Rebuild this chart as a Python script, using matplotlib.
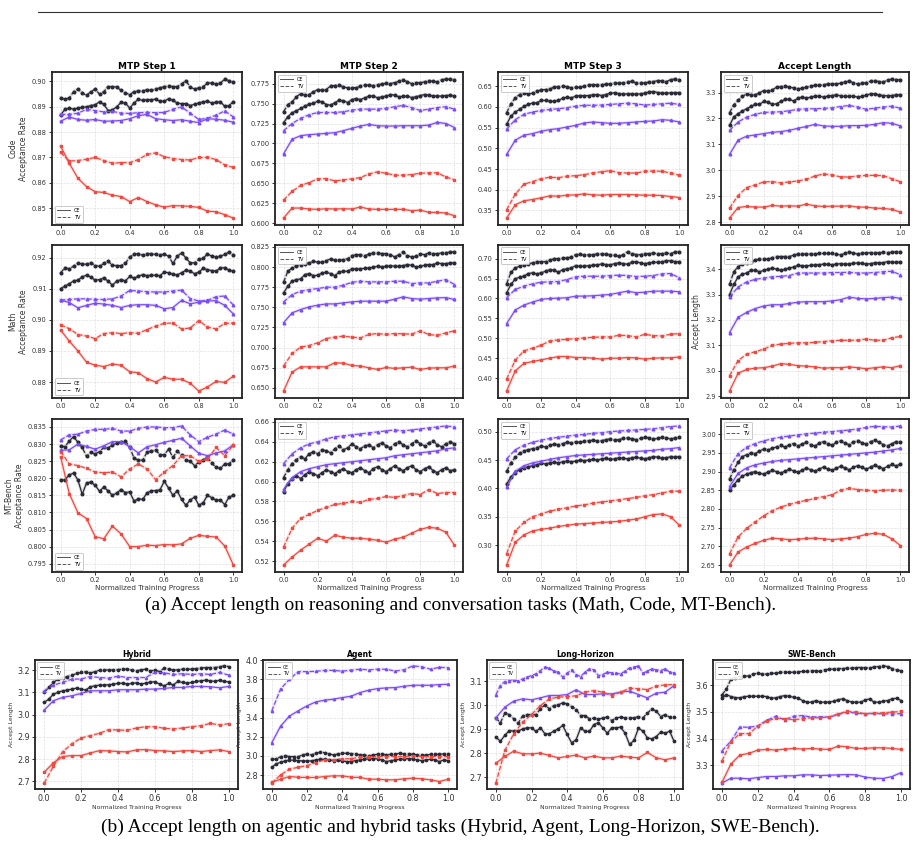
import numpy as np
import matplotlib.pyplot as plt
from matplotlib.lines import Line2D
from matplotlib.ticker import MultipleLocator

# ---------------- data: (a) Code ----------------
CODE1_BK_TV = [0.8935, 0.8930, 0.8935, 0.8960, 0.8970, 0.8955, 0.8945, 0.8960, 0.8970, 0.8950,
               0.8960, 0.8980, 0.8980, 0.8978, 0.8965, 0.8955, 0.8948, 0.8960, 0.8963, 0.8962,
               0.8968, 0.8965, 0.8970, 0.8975, 0.8980, 0.8982, 0.8980, 0.8980, 0.8990, 0.9003,
               0.8978, 0.8970, 0.8975, 0.8980, 0.8993, 0.8995, 0.8990, 0.8993, 0.9010, 0.9003, 0.8997]
CODE1_BK_CE = [0.8868, 0.8890, 0.8895, 0.8890, 0.8895, 0.8898, 0.8900, 0.8905, 0.8908, 0.8920,
               0.8910, 0.8885, 0.8888, 0.8900, 0.8918, 0.8915, 0.8895, 0.8915, 0.8930, 0.8925,
               0.8928, 0.8928, 0.8930, 0.8922, 0.8922, 0.8932, 0.8925, 0.8915, 0.8912, 0.8913,
               0.8905, 0.8910, 0.8915, 0.8920, 0.8922, 0.8915, 0.8918, 0.8920, 0.8902, 0.8905, 0.8920]
CODE1_PU_TV = [0.8870, 0.8870, 0.8875, 0.8890, 0.8885, 0.8880, 0.8882, 0.8875, 0.8874, 0.8877, 0.8878,
               0.8877, 0.8878, 0.8890, 0.8900, 0.8875, 0.8850, 0.8855, 0.8867, 0.8884, 0.8860]
CODE1_PU_CE = [0.8843, 0.8860, 0.8850, 0.8847, 0.8850, 0.8843, 0.8844, 0.8846, 0.8853, 0.8865, 0.8870,
               0.8853, 0.8849, 0.8846, 0.8849, 0.8843, 0.8838, 0.8853, 0.8851, 0.8847, 0.8839]
CODE1_RD_TV = [0.8720, 0.8686, 0.8688, 0.8693, 0.8700, 0.8688, 0.8677, 0.8680, 0.8680, 0.8692, 0.8712,
               0.8718, 0.8703, 0.8696, 0.8692, 0.8690, 0.8700, 0.8700, 0.8692, 0.8670, 0.8661]
CODE1_RD_CE = [0.8745, 0.8677, 0.8618, 0.8585, 0.8565, 0.8562, 0.8551, 0.8546, 0.8526, 0.8542, 0.8526,
               0.8513, 0.8504, 0.8510, 0.8509, 0.8507, 0.8503, 0.8488, 0.8486, 0.8474, 0.8461]

CODE2_BK_TV = [0.7397, 0.7488, 0.7521, 0.7584, 0.7625, 0.7605, 0.7613, 0.7646, 0.7675, 0.7667,
               0.7675, 0.7721, 0.7725, 0.7733, 0.7708, 0.7696, 0.7696, 0.7700, 0.7717, 0.7733,
               0.7729, 0.7725, 0.7733, 0.7746, 0.7754, 0.7750, 0.7762, 0.7779, 0.7800, 0.7771,
               0.7750, 0.7762, 0.7762, 0.7771, 0.7787, 0.7779, 0.7771, 0.7796, 0.7808, 0.7804, 0.7800]
CODE2_BK_CE = [0.7260, 0.7334, 0.7384, 0.7409, 0.7438, 0.7467, 0.7492, 0.7501, 0.7530, 0.7521,
               0.7488, 0.7480, 0.7509, 0.7542, 0.7534, 0.7513, 0.7550, 0.7563, 0.7550, 0.7571,
               0.7592, 0.7596, 0.7571, 0.7584, 0.7592, 0.7613, 0.7605, 0.7584, 0.7592, 0.7592,
               0.7575, 0.7584, 0.7600, 0.7613, 0.7605, 0.7592, 0.7596, 0.7592, 0.7600, 0.7605, 0.7592]
CODE2_PU_TV = [0.7160, 0.7250, 0.7314, 0.7360, 0.7388, 0.7388, 0.7388, 0.7397, 0.7417, 0.7430, 0.7430,
               0.7430, 0.7440, 0.7460, 0.7476, 0.7450, 0.7413, 0.7430, 0.7450, 0.7460, 0.7430]
CODE2_PU_CE = [0.6869, 0.7052, 0.7098, 0.7110, 0.7118, 0.7127, 0.7135, 0.7160, 0.7190, 0.7218, 0.7239,
               0.7222, 0.7218, 0.7218, 0.7222, 0.7222, 0.7222, 0.7230, 0.7264, 0.7250, 0.7200]
CODE2_RD_TV = [0.6291, 0.6400, 0.6474, 0.6510, 0.6557, 0.6560, 0.6531, 0.6544, 0.6557, 0.6572, 0.6619,
               0.6644, 0.6627, 0.6602, 0.6602, 0.6611, 0.6627, 0.6632, 0.6632, 0.6580, 0.6545]
CODE2_RD_CE = [0.6066, 0.6191, 0.6191, 0.6179, 0.6175, 0.6183, 0.6179, 0.6183, 0.6179, 0.6204, 0.6179,
               0.6175, 0.6175, 0.6175, 0.6175, 0.6158, 0.6166, 0.6137, 0.6137, 0.6129, 0.6095]

CODE3_BK_TV = [0.586, 0.6076, 0.622, 0.630, 0.6332, 0.6316, 0.6332, 0.638, 0.6412, 0.642,
               0.6436, 0.6476, 0.6492, 0.650, 0.6492, 0.646, 0.6476, 0.6476, 0.650, 0.6532,
               0.654, 0.6532, 0.654, 0.6548, 0.6556, 0.658, 0.6572, 0.658, 0.6604, 0.662,
               0.658, 0.6588, 0.658, 0.6604, 0.6612, 0.6636, 0.6628, 0.6612, 0.666, 0.6676, 0.6652]
CODE3_BK_CE = [0.558, 0.578, 0.5876, 0.594, 0.6012, 0.606, 0.6092, 0.610, 0.6156, 0.6156,
               0.614, 0.6132, 0.6156, 0.6212, 0.6236, 0.622, 0.626, 0.6276, 0.6268, 0.6276,
               0.6292, 0.630, 0.6276, 0.630, 0.6332, 0.634, 0.6324, 0.6308, 0.6316, 0.6316,
               0.6308, 0.6316, 0.6332, 0.6364, 0.6372, 0.6348, 0.6332, 0.6332, 0.634, 0.6348, 0.634]
CODE3_PU_TV = [0.546, 0.5692, 0.582, 0.5876, 0.5916, 0.594, 0.5956, 0.598, 0.602, 0.604, 0.604,
               0.6044, 0.606, 0.6076, 0.609, 0.6076, 0.6044, 0.606, 0.6076, 0.609, 0.606]
CODE3_PU_CE = [0.4852, 0.5196, 0.5316, 0.5356, 0.5412, 0.5452, 0.5476, 0.5516, 0.5556, 0.5612, 0.5636,
               0.562, 0.5604, 0.5604, 0.562, 0.5636, 0.5652, 0.566, 0.5692, 0.5676, 0.5636]
CODE3_RD_TV = [0.3516, 0.3892, 0.4132, 0.4196, 0.4268, 0.430, 0.4292, 0.4324, 0.434, 0.4364, 0.4404,
               0.4436, 0.446, 0.4412, 0.4404, 0.4404, 0.4444, 0.4452, 0.4444, 0.4404, 0.4348]
CODE3_RD_CE = [0.3316, 0.3636, 0.3732, 0.3764, 0.3804, 0.3852, 0.3844, 0.3868, 0.3876, 0.390, 0.3876,
               0.3868, 0.3884, 0.3884, 0.3884, 0.3876, 0.3868, 0.3868, 0.386, 0.3836, 0.3812]

CODEL_BK_TV = [3.222, 3.2527, 3.2693, 3.2847, 3.2949, 3.2910, 3.2910, 3.2987, 3.3077, 3.3051,
               3.3102, 3.3205, 3.323, 3.3243, 3.3205, 3.3179, 3.3141, 3.3166, 3.3205, 3.3243,
               3.3281, 3.3281, 3.3294, 3.3332, 3.3332, 3.3332, 3.3358, 3.3409, 3.3448, 3.3371,
               3.3332, 3.3358, 3.3384, 3.3435, 3.346, 3.3422, 3.3409, 3.3473, 3.3524, 3.3499, 3.3486]
CODEL_BK_CE = [3.1734, 3.2054, 3.2182, 3.2284, 3.2373, 3.2463, 3.254, 3.254, 3.2655, 3.2629,
               3.254, 3.2565, 3.2655, 3.2731, 3.2744, 3.2668, 3.2783, 3.2821, 3.2783, 3.2821,
               3.2859, 3.2859, 3.2821, 3.2859, 3.2885, 3.2910, 3.2872, 3.2847, 3.2859, 3.2859,
               3.2821, 3.2847, 3.2898, 3.2949, 3.2949, 3.2898, 3.2885, 3.2872, 3.2885, 3.2910, 3.2910]
CODEL_PU_TV = [3.154, 3.186, 3.205, 3.2156, 3.2233, 3.2245, 3.2258, 3.2297, 3.2348, 3.2373, 3.2373,
               3.2386, 3.241, 3.246, 3.250, 3.2437, 3.2348, 3.240, 3.2437, 3.2475, 3.239]
CODEL_PU_CE = [3.061, 3.116, 3.1312, 3.136, 3.1414, 3.1465, 3.149, 3.154, 3.1618, 3.169, 3.177,
               3.171, 3.1695, 3.1695, 3.1721, 3.1721, 3.1734, 3.177, 3.1836, 3.181, 3.171]
CODEL_RD_TV = [2.8537, 2.9023, 2.933, 2.943, 2.9547, 2.956, 2.951, 2.9547, 2.9586, 2.965, 2.9777,
               2.9854, 2.9816, 2.974, 2.974, 2.9777, 2.980, 2.980, 2.979, 2.967, 2.955]
CODEL_RD_CE = [2.8153, 2.856, 2.860, 2.8575, 2.8575, 2.864, 2.8612, 2.8625, 2.8612, 2.869, 2.8625,
               2.860, 2.8612, 2.8612, 2.8625, 2.8575, 2.8575, 2.8537, 2.8524, 2.8486, 2.8384]

# ---------------- data: (a) Math ----------------
MATH1_BK_TV = [0.9152, 0.9168, 0.9165, 0.9173, 0.9182, 0.9181, 0.9179, 0.9184, 0.9175, 0.9173,
               0.9182, 0.9189, 0.9176, 0.9175, 0.9175, 0.9182, 0.9203, 0.9211, 0.9214, 0.9208,
               0.9214, 0.9213, 0.9211, 0.9209, 0.9212, 0.9205, 0.9182, 0.9205, 0.9216, 0.9200,
               0.9184, 0.9184, 0.9195, 0.9198, 0.9213, 0.9205, 0.9203, 0.9205, 0.9211, 0.9219, 0.9209]
MATH1_BK_CE = [0.9101, 0.9109, 0.9116, 0.9126, 0.9128, 0.9139, 0.9144, 0.9138, 0.9128, 0.9130,
               0.9135, 0.9125, 0.9112, 0.9125, 0.9130, 0.9126, 0.9140, 0.9134, 0.9141, 0.9146,
               0.9143, 0.9144, 0.9144, 0.9143, 0.9154, 0.9152, 0.9147, 0.9145, 0.9152, 0.9160,
               0.9157, 0.9149, 0.9154, 0.9166, 0.9162, 0.9159, 0.9157, 0.9168, 0.9168, 0.9160, 0.9157]
MATH1_PU_TV = [0.9064, 0.9066, 0.9068, 0.9068, 0.9066, 0.9066, 0.9068, 0.9077, 0.9095, 0.9093, 0.9091,
               0.9090, 0.9090, 0.9093, 0.9096, 0.9069, 0.9061, 0.9063, 0.9075, 0.9077, 0.9048]
MATH1_PU_CE = [0.9064, 0.9056, 0.9039, 0.9047, 0.9054, 0.9051, 0.9047, 0.9040, 0.9047, 0.9049, 0.9049,
               0.9047, 0.9036, 0.9040, 0.9063, 0.9052, 0.9057, 0.9061, 0.9062, 0.9047, 0.9019]
MATH1_RD_TV = [0.8984, 0.8972, 0.8953, 0.8948, 0.8940, 0.8956, 0.8959, 0.8956, 0.8959, 0.8957, 0.8969,
               0.8980, 0.8989, 0.8990, 0.8971, 0.8974, 0.8998, 0.8977, 0.8971, 0.8989, 0.8990]
MATH1_RD_CE = [0.8967, 0.8932, 0.8900, 0.8864, 0.8854, 0.8850, 0.8858, 0.8854, 0.8833, 0.8830, 0.8811,
               0.8800, 0.8815, 0.8809, 0.8809, 0.8796, 0.8771, 0.8784, 0.8802, 0.8799, 0.8819]

MATH2_BK_TV = [0.7811, 0.7948, 0.7989, 0.8018, 0.8031, 0.8043, 0.8051, 0.8072, 0.8060, 0.8060,
               0.8080, 0.8101, 0.8085, 0.8085, 0.8093, 0.8105, 0.8142, 0.8155, 0.8155, 0.8142,
               0.8159, 0.8176, 0.8176, 0.8167, 0.8167, 0.8155, 0.8126, 0.8155, 0.8184, 0.8142,
               0.8126, 0.8134, 0.8163, 0.8155, 0.8176, 0.8167, 0.8167, 0.8176, 0.8176, 0.8188, 0.8188]
MATH2_BK_CE = [0.7679, 0.7762, 0.7824, 0.7845, 0.7853, 0.7907, 0.7919, 0.7894, 0.7898, 0.7927,
               0.7936, 0.7919, 0.7894, 0.7936, 0.7948, 0.7948, 0.7977, 0.7977, 0.7977, 0.7985,
               0.7989, 0.7998, 0.8010, 0.8002, 0.8010, 0.8018, 0.8010, 0.8010, 0.8018, 0.8031,
               0.8022, 0.8002, 0.8010, 0.8022, 0.8031, 0.8031, 0.8051, 0.8043, 0.8043, 0.8051, 0.8051]
MATH2_PU_TV = [0.7567, 0.7658, 0.7700, 0.7720, 0.7733, 0.7750, 0.7750, 0.7774, 0.7811, 0.7824, 0.7816,
               0.7816, 0.7816, 0.7824, 0.7824, 0.7795, 0.7803, 0.7803, 0.7824, 0.7845, 0.7783]
MATH2_PU_CE = [0.7307, 0.7431, 0.7472, 0.7505, 0.7526, 0.7542, 0.7542, 0.7555, 0.7567, 0.7576, 0.7576,
               0.7576, 0.7576, 0.7601, 0.7630, 0.7609, 0.7601, 0.7609, 0.7617, 0.7621, 0.7597]
MATH2_RD_TV = [0.6769, 0.6926, 0.7005, 0.7025, 0.7058, 0.7112, 0.7129, 0.7141, 0.7129, 0.7120, 0.7162,
               0.7174, 0.7162, 0.7174, 0.7170, 0.7166, 0.7207, 0.7162, 0.7150, 0.7183, 0.7207]
MATH2_RD_CE = [0.6459, 0.6694, 0.6760, 0.6760, 0.6760, 0.6760, 0.6810, 0.6806, 0.6777, 0.6769, 0.6748,
               0.6727, 0.6752, 0.6740, 0.6748, 0.6756, 0.6727, 0.6744, 0.6748, 0.6748, 0.6769]

MATH3_BK_TV = [0.6367, 0.6658, 0.6767, 0.6808, 0.6850, 0.6867, 0.6892, 0.6925, 0.6917, 0.6925,
               0.6958, 0.7000, 0.7000, 0.7008, 0.7017, 0.7042, 0.7100, 0.7108, 0.7083, 0.7100,
               0.7100, 0.7117, 0.7117, 0.7108, 0.7100, 0.7083, 0.7058, 0.7100, 0.7167, 0.7125,
               0.7100, 0.7100, 0.7125, 0.7125, 0.7142, 0.7117, 0.7125, 0.7142, 0.7125, 0.7167, 0.7167]
MATH3_BK_CE = [0.6142, 0.6350, 0.6492, 0.6533, 0.6558, 0.6625, 0.6642, 0.6617, 0.6642, 0.6683,
               0.6725, 0.6708, 0.6658, 0.6725, 0.6742, 0.6767, 0.6825, 0.6808, 0.6808, 0.6825,
               0.6833, 0.6842, 0.6867, 0.6850, 0.6842, 0.6875, 0.6892, 0.6875, 0.6858, 0.6908,
               0.6925, 0.6892, 0.6875, 0.6892, 0.6908, 0.6908, 0.6917, 0.6950, 0.6942, 0.6925, 0.6917]
MATH3_PU_TV = [0.6017, 0.6225, 0.6308, 0.6367, 0.6408, 0.6417, 0.6425, 0.6475, 0.6542, 0.6558, 0.6558,
               0.6558, 0.6575, 0.6583, 0.6575, 0.6550, 0.6558, 0.6575, 0.6617, 0.6625, 0.6517]
MATH3_PU_CE = [0.5367, 0.5708, 0.5833, 0.5908, 0.5975, 0.6000, 0.6008, 0.6017, 0.6058, 0.6058, 0.6067,
               0.6083, 0.6100, 0.6142, 0.6183, 0.6142, 0.6158, 0.6183, 0.6183, 0.6183, 0.6167]
MATH3_RD_TV = [0.3975, 0.4450, 0.4683, 0.4750, 0.4825, 0.4933, 0.4958, 0.4975, 0.4992, 0.5008, 0.5025,
               0.5033, 0.5033, 0.5075, 0.5067, 0.5033, 0.5100, 0.5067, 0.5058, 0.5100, 0.5117]
MATH3_RD_CE = [0.3675, 0.4183, 0.4367, 0.4417, 0.4458, 0.4500, 0.4542, 0.4542, 0.4517, 0.4517, 0.4500,
               0.4475, 0.4500, 0.4500, 0.4517, 0.4508, 0.4475, 0.4500, 0.4508, 0.4508, 0.4533]

MATHL_BK_TV = [3.340, 3.390, 3.410, 3.420, 3.425, 3.430, 3.435, 3.440, 3.440, 3.440,
               3.445, 3.450, 3.450, 3.450, 3.450, 3.455, 3.460, 3.460, 3.460, 3.460,
               3.460, 3.462, 3.462, 3.462, 3.462, 3.460, 3.456, 3.462, 3.468, 3.463,
               3.460, 3.462, 3.464, 3.465, 3.465, 3.465, 3.466, 3.465, 3.467, 3.468, 3.468]
MATHL_BK_CE = [3.300, 3.340, 3.370, 3.380, 3.385, 3.395, 3.395, 3.390, 3.395, 3.400,
               3.405, 3.400, 3.395, 3.400, 3.405, 3.408, 3.415, 3.413, 3.413, 3.415,
               3.417, 3.418, 3.420, 3.419, 3.418, 3.420, 3.422, 3.420, 3.420, 3.423,
               3.425, 3.423, 3.420, 3.422, 3.425, 3.425, 3.426, 3.430, 3.428, 3.427, 3.428]
MATHL_PU_TV = [3.290, 3.330, 3.350, 3.360, 3.365, 3.370, 3.372, 3.375, 3.385, 3.385, 3.385,
               3.385, 3.387, 3.387, 3.388, 3.385, 3.385, 3.387, 3.390, 3.392, 3.378]
MATHL_PU_CE = [3.150, 3.210, 3.230, 3.245, 3.255, 3.260, 3.260, 3.265, 3.270, 3.272, 3.272,
               3.272, 3.275, 3.280, 3.290, 3.285, 3.283, 3.285, 3.288, 3.290, 3.285]
MATHL_RD_TV = [2.980, 3.040, 3.065, 3.075, 3.085, 3.100, 3.105, 3.108, 3.110, 3.110, 3.112,
               3.115, 3.118, 3.120, 3.120, 3.120, 3.125, 3.120, 3.120, 3.130, 3.135]
MATHL_RD_CE = [2.920, 2.990, 3.005, 3.010, 3.012, 3.018, 3.028, 3.025, 3.020, 3.018, 3.015,
               3.010, 3.012, 3.012, 3.015, 3.012, 3.008, 3.012, 3.015, 3.012, 3.020]

# ---------------- data: (a) MT-Bench ----------------
MT1_BK_TV = [0.8295, 0.8292, 0.8309, 0.8322, 0.8305, 0.8290, 0.8264, 0.8276, 0.8271, 0.8278,
             0.8290, 0.8288, 0.8298, 0.8302, 0.8305, 0.8309, 0.8290, 0.8259, 0.8253, 0.8253,
             0.8276, 0.8280, 0.8282, 0.8269, 0.8269, 0.8285, 0.8261, 0.8279, 0.8268, 0.8253,
             0.8250, 0.8237, 0.8247, 0.8253, 0.8261, 0.8244, 0.8232, 0.8229, 0.8242, 0.8242, 0.8254]
MT1_BK_CE = [0.8195, 0.8195, 0.8210, 0.8215, 0.8195, 0.8153, 0.8186, 0.8189, 0.8179, 0.8162,
             0.8174, 0.8163, 0.8150, 0.8157, 0.8167, 0.8158, 0.8160, 0.8133, 0.8140, 0.8138,
             0.8157, 0.8163, 0.8164, 0.8166, 0.8191, 0.8171, 0.8150, 0.8163, 0.8138, 0.8121,
             0.8136, 0.8145, 0.8121, 0.8128, 0.8150, 0.8143, 0.8136, 0.8136, 0.8123, 0.8145, 0.8150]
MT1_PU_TV = [0.8312, 0.8327, 0.8329, 0.8338, 0.8343, 0.8343, 0.8346, 0.8338, 0.8338, 0.8346, 0.8350,
             0.8350, 0.8348, 0.8348, 0.8353, 0.8327, 0.8307, 0.8320, 0.8329, 0.8341, 0.8329]
MT1_PU_CE = [0.8282, 0.8283, 0.8300, 0.8293, 0.8285, 0.8295, 0.8307, 0.8307, 0.8292, 0.8274, 0.8292,
             0.8298, 0.8305, 0.8311, 0.8317, 0.8295, 0.8273, 0.8266, 0.8274, 0.8280, 0.8298]
MT1_RD_TV = [0.8278, 0.8242, 0.8237, 0.8229, 0.8218, 0.8216, 0.8218, 0.8204, 0.8227, 0.8242, 0.8227,
             0.8196, 0.8218, 0.8237, 0.8266, 0.8266, 0.8249, 0.8256, 0.8290, 0.8266, 0.8297]
MT1_RD_CE = [0.8263, 0.8155, 0.8099, 0.8082, 0.8029, 0.8023, 0.8060, 0.8037, 0.8000, 0.8000, 0.8004,
             0.8003, 0.8006, 0.8005, 0.8008, 0.8024, 0.8033, 0.8030, 0.8028, 0.8002, 0.7946]

MT2_BK_TV = [0.604, 0.612, 0.618, 0.622, 0.625, 0.623, 0.628, 0.630, 0.628, 0.632,
             0.631, 0.629, 0.633, 0.636, 0.632, 0.634, 0.638, 0.635, 0.633, 0.636,
             0.637, 0.634, 0.637, 0.639, 0.636, 0.634, 0.638, 0.640, 0.637, 0.635,
             0.638, 0.641, 0.638, 0.636, 0.639, 0.641, 0.637, 0.635, 0.638, 0.640, 0.638]
MT2_BK_CE = [0.590, 0.598, 0.603, 0.606, 0.603, 0.607, 0.610, 0.608, 0.606, 0.609,
             0.612, 0.610, 0.608, 0.611, 0.613, 0.610, 0.609, 0.612, 0.614, 0.611,
             0.609, 0.613, 0.615, 0.612, 0.610, 0.613, 0.616, 0.613, 0.611, 0.614,
             0.616, 0.612, 0.610, 0.613, 0.615, 0.611, 0.609, 0.612, 0.614, 0.611, 0.612]
MT2_PU_TV = [0.618, 0.628, 0.634, 0.638, 0.640, 0.643, 0.645, 0.646, 0.647, 0.648, 0.649,
             0.650, 0.651, 0.652, 0.651, 0.652, 0.653, 0.654, 0.655, 0.656, 0.655]
MT2_PU_CE = [0.592, 0.604, 0.610, 0.613, 0.615, 0.617, 0.618, 0.619, 0.620, 0.621, 0.622,
             0.623, 0.624, 0.626, 0.627, 0.628, 0.629, 0.630, 0.631, 0.633, 0.634]
MT2_RD_TV = [0.534, 0.553, 0.563, 0.567, 0.571, 0.574, 0.577, 0.578, 0.580, 0.579, 0.582,
             0.583, 0.585, 0.584, 0.586, 0.588, 0.587, 0.592, 0.588, 0.589, 0.589]
MT2_RD_CE = [0.516, 0.524, 0.531, 0.537, 0.543, 0.540, 0.546, 0.544, 0.543, 0.543, 0.542,
             0.541, 0.539, 0.542, 0.544, 0.548, 0.552, 0.554, 0.553, 0.549, 0.536]

MT3_BK_TV = [0.430, 0.445, 0.455, 0.462, 0.466, 0.468, 0.470, 0.472, 0.474, 0.473,
             0.476, 0.478, 0.477, 0.479, 0.481, 0.480, 0.482, 0.481, 0.483, 0.484,
             0.485, 0.483, 0.484, 0.486, 0.487, 0.485, 0.486, 0.488, 0.489, 0.487,
             0.486, 0.488, 0.490, 0.489, 0.487, 0.488, 0.490, 0.489, 0.487, 0.489, 0.490]
MT3_BK_CE = [0.408, 0.420, 0.428, 0.433, 0.436, 0.438, 0.440, 0.442, 0.444, 0.443,
             0.445, 0.446, 0.445, 0.447, 0.448, 0.447, 0.448, 0.450, 0.449, 0.450,
             0.451, 0.450, 0.452, 0.453, 0.451, 0.452, 0.454, 0.453, 0.452, 0.454,
             0.455, 0.453, 0.452, 0.454, 0.456, 0.455, 0.453, 0.454, 0.456, 0.455, 0.456]
MT3_PU_TV = [0.452, 0.468, 0.476, 0.481, 0.485, 0.488, 0.490, 0.492, 0.494, 0.495, 0.497,
             0.498, 0.500, 0.501, 0.502, 0.503, 0.504, 0.505, 0.507, 0.509, 0.510]
MT3_PU_CE = [0.402, 0.430, 0.440, 0.445, 0.448, 0.451, 0.454, 0.456, 0.458, 0.459, 0.460,
             0.461, 0.462, 0.463, 0.464, 0.465, 0.466, 0.467, 0.469, 0.470, 0.472]
MT3_RD_TV = [0.285, 0.325, 0.340, 0.350, 0.355, 0.360, 0.363, 0.366, 0.369, 0.371, 0.374,
             0.376, 0.378, 0.380, 0.382, 0.384, 0.387, 0.389, 0.392, 0.395, 0.395]
MT3_RD_CE = [0.265, 0.305, 0.318, 0.325, 0.328, 0.330, 0.333, 0.335, 0.337, 0.338, 0.339,
             0.340, 0.341, 0.342, 0.344, 0.346, 0.350, 0.354, 0.355, 0.350, 0.335]

MTL_BK_TV = [2.880, 2.905, 2.925, 2.940, 2.945, 2.950, 2.948, 2.955, 2.960, 2.958,
             2.962, 2.966, 2.970, 2.965, 2.972, 2.975, 2.968, 2.974, 2.978, 2.972,
             2.968, 2.976, 2.980, 2.975, 2.970, 2.978, 2.982, 2.976, 2.972, 2.979,
             2.983, 2.977, 2.973, 2.980, 2.984, 2.978, 2.972, 2.968, 2.975, 2.980, 2.978]
MTL_BK_CE = [2.850, 2.865, 2.878, 2.888, 2.893, 2.897, 2.900, 2.895, 2.893, 2.899,
             2.903, 2.900, 2.896, 2.901, 2.906, 2.902, 2.898, 2.904, 2.909, 2.905,
             2.901, 2.907, 2.912, 2.907, 2.903, 2.909, 2.914, 2.909, 2.905, 2.911,
             2.916, 2.911, 2.906, 2.912, 2.917, 2.912, 2.908, 2.914, 2.919, 2.915, 2.920]
MTL_PU_TV = [2.910, 2.948, 2.965, 2.975, 2.982, 2.988, 2.992, 2.995, 2.998, 3.001, 3.003,
             3.005, 3.007, 3.009, 3.011, 3.014, 3.018, 3.021, 3.020, 3.019, 3.022]
MTL_PU_CE = [2.860, 2.895, 2.910, 2.918, 2.923, 2.927, 2.930, 2.932, 2.934, 2.936, 2.938,
             2.940, 2.942, 2.944, 2.946, 2.948, 2.950, 2.952, 2.955, 2.958, 2.962]
MTL_RD_TV = [2.680, 2.725, 2.748, 2.765, 2.782, 2.795, 2.805, 2.812, 2.818, 2.823, 2.828,
             2.833, 2.838, 2.850, 2.855, 2.852, 2.850, 2.849, 2.850, 2.851, 2.850]
MTL_RD_CE = [2.650, 2.685, 2.698, 2.708, 2.716, 2.722, 2.720, 2.718, 2.719, 2.721, 2.722,
             2.720, 2.718, 2.720, 2.722, 2.726, 2.732, 2.735, 2.732, 2.720, 2.702]

# ---------------- data: (b) ----------------
HYB_BK_TV = [3.1000, 3.1224, 3.1448, 3.1597, 3.1642, 3.1716, 3.1776, 3.1851, 3.1896, 3.1925,
             3.1866, 3.1940, 3.2000, 3.2000, 3.2015, 3.2000, 3.2030, 3.2045, 3.2045, 3.2000,
             3.1970, 3.2015, 3.2045, 3.1970, 3.2000, 3.1940, 3.2090, 3.2045, 3.2000, 3.2015,
             3.2045, 3.2045, 3.2045, 3.2075, 3.2090, 3.2119, 3.2119, 3.2119, 3.2149, 3.2194, 3.2164]
HYB_BK_CE = [3.0552, 3.0701, 3.0925, 3.1000, 3.1075, 3.1104, 3.1149, 3.1194, 3.1149, 3.1104,
             3.1254, 3.1299, 3.1328, 3.1328, 3.1343, 3.1373, 3.1403, 3.1418, 3.1373, 3.1403,
             3.1433, 3.1373, 3.1418, 3.1463, 3.1478, 3.1373, 3.1299, 3.1403, 3.1343, 3.1493,
             3.1448, 3.1418, 3.1448, 3.1493, 3.1522, 3.1552, 3.1522, 3.1493, 3.1552, 3.1493, 3.1478]
HYB_PU_TV = [3.1075, 3.1330, 3.1450, 3.1600, 3.1600, 3.1716, 3.1670, 3.1640, 3.1730, 3.1670, 3.1670,
             3.1670, 3.1900, 3.1880, 3.1806, 3.1840, 3.1806, 3.1840, 3.1806, 3.1900, 3.1776]
HYB_PU_CE = [3.0210, 3.0627, 3.0780, 3.0850, 3.0955, 3.1075, 3.1075, 3.1075, 3.1120, 3.1120, 3.1120,
             3.1150, 3.1150, 3.1180, 3.1224, 3.1224, 3.1270, 3.1270, 3.1254, 3.1210, 3.1270]
HYB_RD_TV = [2.6925, 2.7690, 2.8340, 2.8690, 2.8955, 2.9060, 2.9164, 2.9330, 2.9313, 2.9299, 2.9403,
             2.9460, 2.9460, 2.9388, 2.9358, 2.9403, 2.9460, 2.9507, 2.9610, 2.9537, 2.9597]
HYB_RD_CE = [2.7418, 2.7840, 2.8120, 2.8164, 2.8164, 2.8280, 2.8388, 2.8373, 2.8343, 2.8328, 2.8418,
             2.8433, 2.8388, 2.8373, 2.8343, 2.8373, 2.8388, 2.8343, 2.8388, 2.8418, 2.8343]

AGT_BK_TV = [2.9696, 2.9661, 2.9938, 3.0042, 2.9938, 2.9938, 2.9938, 3.0111, 3.0215, 3.0111,
             3.0284, 3.0388, 3.0353, 3.0215, 3.0111, 3.0215, 3.0284, 3.0284, 3.0249, 3.0215,
             3.0111, 3.0111, 3.0007, 3.0111, 3.0180, 3.0215, 3.0111, 3.0180, 3.0180, 3.0284,
             3.0215, 3.0215, 3.0180, 3.0111, 3.0111, 3.0076, 3.0180, 3.0180, 3.0180, 3.0215, 3.0215]
AGT_BK_CE = [2.8830, 2.9176, 2.9349, 2.9488, 2.9592, 2.9557, 2.9522, 2.9488, 2.9488, 2.9488,
             2.9592, 2.9661, 2.9661, 2.9592, 2.9522, 2.9592, 2.9488, 2.9419, 2.9419, 2.9522,
             2.9592, 2.9661, 2.9696, 2.9730, 2.9696, 2.9592, 2.9419, 2.9522, 2.9592, 2.9661,
             2.9696, 2.9730, 2.9696, 2.9592, 2.9522, 2.9592, 2.9661, 2.9592, 2.9419, 2.9592, 2.9522]
AGT_PU_TV = [3.471, 3.700, 3.800, 3.880, 3.880, 3.883, 3.893, 3.893, 3.885, 3.895, 3.905,
             3.898, 3.905, 3.905, 3.885, 3.900, 3.940, 3.930, 3.905, 3.925, 3.921]
AGT_PU_CE = [3.1390, 3.3121, 3.4159, 3.4713, 3.5232, 3.5647, 3.5820, 3.5924, 3.6097, 3.6235, 3.6616,
             3.6858, 3.7031, 3.7100, 3.7135, 3.7273, 3.7377, 3.7377, 3.7377, 3.7446, 3.7480]
AGT_RD_TV = [2.7170, 2.8035, 2.8623, 2.8830, 2.9000, 2.9315, 2.9590, 2.9590, 2.9696, 2.9730, 2.9869,
             2.9869, 2.9938, 2.9938, 2.9938, 2.9938, 3.0007, 2.9938, 2.9938, 2.9938, 2.9938]
AGT_RD_CE = [2.727, 2.758, 2.786, 2.779, 2.776, 2.776, 2.786, 2.793, 2.793, 2.779, 2.776,
             2.758, 2.758, 2.7516, 2.7516, 2.762, 2.769, 2.762, 2.7516, 2.734, 2.758]

LH_BK_TV = [2.9472, 2.9264, 2.9667, 2.9611, 2.9431, 2.9250, 2.9556, 2.9611, 2.9611, 2.9611,
            2.9847, 3.0014, 2.9847, 2.9986, 3.0014, 3.0097, 3.0056, 2.9944, 2.9819, 2.9569,
            2.9569, 2.9431, 2.9458, 2.9403, 2.9472, 2.9500, 2.9361, 2.9472, 2.9500, 2.9472,
            2.9472, 2.9472, 2.9528, 2.9472, 2.9667, 2.9847, 2.9750, 2.9528, 2.9611, 2.9500, 2.9500]
LH_BK_CE = [2.8667, 2.8500, 2.8736, 2.8944, 2.8917, 2.8917, 2.9014, 2.9056, 2.9056, 2.8903,
            2.9056, 2.8806, 2.8806, 2.8917, 2.9014, 2.9153, 2.8778, 2.8431, 2.8556, 2.9042,
            2.8917, 2.8903, 2.9194, 2.9264, 2.9056, 2.8833, 2.9056, 2.9056, 2.9083, 2.8833,
            2.8361, 2.8528, 2.9042, 2.8917, 2.8639, 2.8597, 2.8694, 2.8875, 2.8833, 2.8917, 2.8486]
LH_PU_TV = [3.0431, 3.0819, 3.0986, 3.1028, 3.1069, 3.1000, 3.1097, 3.1167, 3.1236, 3.1306,
            3.1444, 3.1583, 3.1542, 3.1417, 3.1375, 3.1167, 3.1333, 3.1472, 3.1278, 3.1194,
            3.1375, 3.1514, 3.1472, 3.1236, 3.1278, 3.1375, 3.1347, 3.1333, 3.1306, 3.1417,
            3.1556, 3.1583, 3.1639, 3.1333, 3.1417, 3.1514, 3.1472, 3.1444, 3.1514, 3.1375, 3.1347]
LH_PU_CE = [2.9472, 2.9917, 3.0167, 3.0264, 3.0222, 3.0306, 3.0403, 3.0403, 3.0444, 3.0639, 3.0444,
            3.0444, 3.0472, 3.0472, 3.0542, 3.0583, 3.0444, 3.0306, 3.0500, 3.0542, 3.0820]
LH_RD_TV = [2.6750, 2.8111, 2.8806, 2.9292, 2.9611, 2.9986, 3.0264, 3.0333, 3.0361, 3.0389, 3.0542,
            3.0611, 3.0542, 3.0403, 3.0542, 3.0708, 3.0681, 3.0653, 3.0792, 3.0847, 3.0861]
LH_RD_CE = [2.7583, 2.7861, 2.8083, 2.7972, 2.7972, 2.8000, 2.7903, 2.7806, 2.7861, 2.7917, 2.7806,
            2.7875, 2.7806, 2.7806, 2.7875, 2.7833, 2.7806, 2.8028, 2.7806, 2.7722, 2.7806]

SWE_BK_TV = [3.5630, 3.5852, 3.6222, 3.6259, 3.6309, 3.6321, 3.6346, 3.6407, 3.6444, 3.6407,
             3.6407, 3.6432, 3.6444, 3.6469, 3.6494, 3.6469, 3.6481, 3.6494, 3.6506, 3.6506,
             3.6531, 3.6531, 3.6506, 3.6568, 3.6593, 3.6593, 3.6617, 3.6617, 3.6630, 3.6630,
             3.6654, 3.6654, 3.6654, 3.6630, 3.6679, 3.6691, 3.6716, 3.6691, 3.6617, 3.6568, 3.6531]
SWE_BK_CE = [3.5506, 3.5642, 3.5568, 3.5531, 3.5519, 3.5568, 3.5580, 3.5580, 3.5580, 3.5580,
             3.5568, 3.5506, 3.5519, 3.5568, 3.5605, 3.5580, 3.5543, 3.5506, 3.5420, 3.5358,
             3.5358, 3.5420, 3.5358, 3.5358, 3.5358, 3.5395, 3.5457, 3.5481, 3.5420, 3.5358,
             3.5358, 3.5358, 3.5444, 3.5481, 3.5358, 3.5358, 3.5395, 3.5420, 3.5481, 3.5506, 3.5420]
SWE_PU_TV = [3.354, 3.390, 3.443, 3.442, 3.447, 3.468, 3.483, 3.470, 3.483, 3.486, 3.480,
             3.482, 3.480, 3.490, 3.499, 3.495, 3.492, 3.494, 3.492, 3.492, 3.493]
SWE_PU_CE = [3.2333, 3.2518, 3.2518, 3.2494, 3.2543, 3.2580, 3.2580, 3.2605, 3.2605, 3.2642, 3.2642,
             3.2617, 3.2630, 3.2642, 3.2654, 3.2642, 3.2556, 3.2518, 3.2506, 3.2580, 3.2728]
SWE_RD_TV = [3.3160, 3.3877, 3.4185, 3.4185, 3.4457, 3.4654, 3.4753, 3.4741, 3.4704, 3.4741, 3.4778,
             3.4778, 3.4802, 3.4926, 3.5012, 3.4988, 3.4926, 3.4951, 3.4963, 3.4988, 3.5012]
SWE_RD_CE = [3.2358, 3.3050, 3.3383, 3.3444, 3.3568, 3.3593, 3.3568, 3.3605, 3.3630, 3.3605, 3.3630,
             3.3605, 3.3593, 3.3716, 3.3691, 3.3630, 3.3630, 3.3654, 3.3654, 3.3630, 3.3593]

COL_TITLES = ['MTP Step 1', 'MTP Step 2', 'MTP Step 3', 'Accept Length']
ROW_LABELS = ['Code\nAcceptance Rate', 'Math\nAcceptance Rate', 'MT-Bench\nAcceptance Rate']
B_TITLES = ['Hybrid', 'Agent', 'Long-Horizon', 'SWE-Bench']
XTICKS = [0.0, 0.2, 0.4, 0.6, 0.8, 1.0]

GRID_A = [
    [(CODE1_BK_CE, CODE1_BK_TV, CODE1_PU_CE, CODE1_PU_TV, CODE1_RD_CE, CODE1_RD_TV),
     (CODE2_BK_CE, CODE2_BK_TV, CODE2_PU_CE, CODE2_PU_TV, CODE2_RD_CE, CODE2_RD_TV),
     (CODE3_BK_CE, CODE3_BK_TV, CODE3_PU_CE, CODE3_PU_TV, CODE3_RD_CE, CODE3_RD_TV),
     (CODEL_BK_CE, CODEL_BK_TV, CODEL_PU_CE, CODEL_PU_TV, CODEL_RD_CE, CODEL_RD_TV)],
    [(MATH1_BK_CE, MATH1_BK_TV, MATH1_PU_CE, MATH1_PU_TV, MATH1_RD_CE, MATH1_RD_TV),
     (MATH2_BK_CE, MATH2_BK_TV, MATH2_PU_CE, MATH2_PU_TV, MATH2_RD_CE, MATH2_RD_TV),
     (MATH3_BK_CE, MATH3_BK_TV, MATH3_PU_CE, MATH3_PU_TV, MATH3_RD_CE, MATH3_RD_TV),
     (MATHL_BK_CE, MATHL_BK_TV, MATHL_PU_CE, MATHL_PU_TV, MATHL_RD_CE, MATHL_RD_TV)],
    [(MT1_BK_CE, MT1_BK_TV, MT1_PU_CE, MT1_PU_TV, MT1_RD_CE, MT1_RD_TV),
     (MT2_BK_CE, MT2_BK_TV, MT2_PU_CE, MT2_PU_TV, MT2_RD_CE, MT2_RD_TV),
     (MT3_BK_CE, MT3_BK_TV, MT3_PU_CE, MT3_PU_TV, MT3_RD_CE, MT3_RD_TV),
     (MTL_BK_CE, MTL_BK_TV, MTL_PU_CE, MTL_PU_TV, MTL_RD_CE, MTL_RD_TV)],
]
ROW_B = [(HYB_BK_CE, HYB_BK_TV, HYB_PU_CE, HYB_PU_TV, HYB_RD_CE, HYB_RD_TV),
         (AGT_BK_CE, AGT_BK_TV, AGT_PU_CE, AGT_PU_TV, AGT_RD_CE, AGT_RD_TV),
         (LH_BK_CE, LH_BK_TV, LH_PU_CE, LH_PU_TV, LH_RD_CE, LH_RD_TV),
         (SWE_BK_CE, SWE_BK_TV, SWE_PU_CE, SWE_PU_TV, SWE_RD_CE, SWE_RD_TV)]

YSTEP_A = [[0.01, 0.025, 0.05, 0.1], [0.01, 0.025, 0.05, 0.1], [0.005, 0.02, 0.05, 0.05]]
YSTEP_B = [0.1, 0.2, 0.1, 0.1]

BLACK = '#2a2a36'
PURPLE = '#7b4cf5'
RED = '#ee4a42'

W, H = 921, 844


def box(x1, y1, x2, y2):
    return [x1 / W, 1 - y2 / H, (x2 - x1) / W, (y2 - y1) / H]


def draw(ax, data, ystep, fs, ms, legend_loc, leg_fs):
    k_ce, k_tv, p_ce, p_tv, r_ce, r_tv = data
    styles = [(k_tv, BLACK, '--', 'o'), (k_ce, BLACK, '-', 'o'),
              (p_tv, PURPLE, '--', '^'), (p_ce, PURPLE, '-', '^'),
              (r_tv, RED, '--', 's'), (r_ce, RED, '-', 's')]
    for y, c, ls, mk in styles:
        x = np.linspace(0, 1, len(y))
        ax.plot(x, y, color=c, lw=2.4, alpha=0.15, zorder=1)
        ax.plot(x, y, color=c, lw=0.9, ls=ls, marker=mk, ms=ms, zorder=2)
    ax.set_xticks(XTICKS)
    ax.yaxis.set_major_locator(MultipleLocator(ystep))
    ax.ticklabel_format(axis='y', useOffset=False)
    ax.tick_params(labelsize=fs, length=2.2, width=0.7, pad=1.5, colors='#333333')
    ax.grid(True, ls='--', lw=0.5, color='#cccccc', alpha=0.6)
    for s in ax.spines.values():
        s.set_linewidth(1.3)
        s.set_color('#222222')
    handles = [Line2D([], [], color='#555555', lw=0.7, ls='-'),
               Line2D([], [], color='#555555', lw=0.7, ls='--')]
    leg = ax.legend(handles, ['CE', 'TV'], loc=legend_loc, fontsize=leg_fs,
                    handlelength=2.6, borderpad=0.5, labelspacing=0.4,
                    handletextpad=0.8, framealpha=0.9, fancybox=True)
    leg.get_frame().set_edgecolor('#bbbbbb')
    leg.get_frame().set_linewidth(0.6)


fig = plt.figure(figsize=(W / 100, H / 100), dpi=100)

# top rule
fig.add_artist(Line2D([38 / W, 882 / W], [1 - 12 / H, 1 - 12 / H], color='#333333', lw=0.8))

cols_a = [(52, 242), (275, 463), (498, 688), (721, 909)]
rows_a = [(72, 225), (245, 398), (419, 572)]
for r, (y1, y2) in enumerate(rows_a):
    for c, (x1, x2) in enumerate(cols_a):
        ax = fig.add_axes(box(x1, y1, x2, y2))
        loc = 'lower left' if c == 0 else 'upper left'
        draw(ax, GRID_A[r][c], YSTEP_A[r][c], 4.8, 1.9, loc, 3.6)
        if r == 0:
            ax.set_title(COL_TITLES[c], fontsize=6.5, fontweight='bold', pad=2.5)
        if c == 0:
            ax.set_ylabel(ROW_LABELS[r], fontsize=5.5, color='#333333', labelpad=3)
        if c == 3 and r == 1:
            ax.set_ylabel('Accept Length', fontsize=5.5, color='#333333', labelpad=3)
        if r == 2:
            ax.set_xlabel('Normalized Training Progress', fontsize=5.2, color='#333333', labelpad=1.5)

fig.text(0.5, 1 - 605 / H,
         '(a) Accept length on reasoning and conversation tasks (Math, Code, MT-Bench).',
         ha='center', va='center', fontsize=14, family='Liberation Serif')

cols_b = [(35, 238), (263, 457), (487, 683), (713, 910)]
for c, (x1, x2) in enumerate(cols_b):
    ax = fig.add_axes(box(x1, 660, x2, 789))
    draw(ax, ROW_B[c], YSTEP_B[c], 5.8, 1.7, 'upper left', 3.3)
    ax.set_title(B_TITLES[c], fontsize=5.5, fontweight='bold', pad=2.5)
    ax.set_ylabel('Accept Length', fontsize=4.5, color='#333333', labelpad=2)
    ax.set_xlabel('Normalized Training Progress', fontsize=4.4, color='#333333', labelpad=1.5)

fig.text(0.5, 1 - 827 / H,
         '(b) Accept length on agentic and hybrid tasks (Hybrid, Agent, Long-Horizon, SWE-Bench).',
         ha='center', va='center', fontsize=14, family='Liberation Serif')

fig.savefig('out.png', dpi=100)
